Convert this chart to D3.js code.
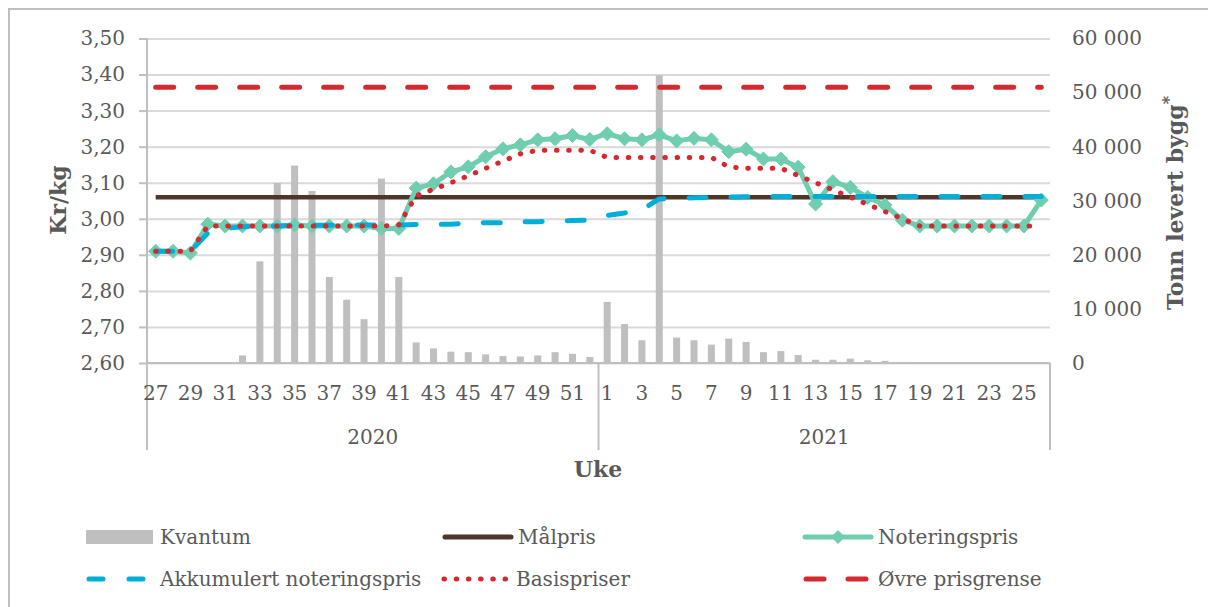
<!DOCTYPE html>
<html><head><meta charset="utf-8">
<script src="https://cdnjs.cloudflare.com/ajax/libs/d3/7.8.5/d3.min.js"></script>
<style>
body{margin:0;background:#fff}
svg{display:block}
text{font-family:"DejaVu Serif",serif;fill:#595959}
</style></head>
<body><svg id="c" width="1208" height="607"></svg>
<script>
// ---------- data ----------
const years = ["2020", "2021"];
const weeks2020 = [27,28,29,30,31,32,33,34,35,36,37,38,39,40,41,42,43,44,45,46,47,48,49,50,51,52];
const weeks2021 = [1,2,3,4,5,6,7,8,9,10,11,12,13,14,15,16,17,18,19,20,21,22,23,24,25,26];

// Kvantum (tonn levert bygg) – right axis
const kvantum = [0,0,0,0,100,1400,18800,33300,36500,31800,15900,11700,8100,34100,15900,3800,2700,2100,2000,1600,1300,1200,1400,2000,1700,1100,
                 11300,7200,4200,53200,4700,4200,3400,4500,3900,2000,2200,1500,600,600,800,500,400,200,150,50,0,0,0,0,0,0];
// Målpris
const malpris = [3.06,3.06,3.06,3.06,3.06,3.06,3.06,3.06,3.06,3.06,3.06,3.06,3.06,3.06,3.06,3.06,3.06,3.06,3.06,3.06,3.06,3.06,3.06,3.06,3.06,3.06,
                 3.06,3.06,3.06,3.06,3.06,3.06,3.06,3.06,3.06,3.06,3.06,3.06,3.06,3.06,3.06,3.06,3.06,3.06,3.06,3.06,3.06,3.06,3.06,3.06,3.06,3.06];
// Noteringspris
const notering = [2.91,2.91,2.905,2.985,2.98,2.98,2.98,2.98,2.983,2.98,2.98,2.98,2.98,2.973,2.973,3.085,3.097,3.13,3.144,3.172,3.194,3.205,3.219,3.222,3.231,3.22,
                  3.236,3.222,3.219,3.233,3.216,3.223,3.219,3.186,3.193,3.166,3.166,3.143,3.041,3.103,3.087,3.059,3.038,2.996,2.98,2.98,2.98,2.98,2.98,2.98,2.98,3.052];
// Akkumulert noteringspris
const akkumulert = [2.91,2.91,2.91,2.96,2.973,2.978,2.98,2.98,2.981,2.982,2.982,2.982,2.983,2.983,2.983,2.984,2.985,2.985,2.988,2.989,2.989,2.992,2.992,2.994,2.995,2.996,
                    3.009,3.016,3.025,3.055,3.057,3.058,3.059,3.06,3.061,3.062,3.062,3.062,3.062,3.062,3.062,3.062,3.062,3.062,3.062,3.062,3.062,3.062,3.062,3.062,3.062,3.062];
// Basispriser
const basis = [2.91,2.91,2.91,2.98,2.98,2.98,2.98,2.98,2.98,2.98,2.98,2.98,2.98,2.98,2.983,3.064,3.082,3.10,3.119,3.14,3.16,3.18,3.19,3.19,3.19,3.19,
               3.17,3.17,3.17,3.17,3.17,3.17,3.17,3.144,3.14,3.14,3.14,3.12,3.10,3.08,3.06,3.04,3.02,3.00,2.98,2.98,2.98,2.98,2.98,2.98,2.98,2.98];
// Øvre prisgrense
const ovre = [3.365,3.365,3.365,3.365,3.365,3.365,3.365,3.365,3.365,3.365,3.365,3.365,3.365,3.365,3.365,3.365,3.365,3.365,3.365,3.365,3.365,3.365,3.365,3.365,3.365,3.365,
              3.365,3.365,3.365,3.365,3.365,3.365,3.365,3.365,3.365,3.365,3.365,3.365,3.365,3.365,3.365,3.365,3.365,3.365,3.365,3.365,3.365,3.365,3.365,3.365,3.365,3.365];

const leftTicks = [2.6,2.7,2.8,2.9,3.0,3.1,3.2,3.3,3.4,3.5];
const rightTicks = [0,10000,20000,30000,40000,50000,60000];
const weekLabels = [27,29,31,33,35,37,39,41,43,45,47,49,51,1,3,5,7,9,11,13,15,17,19,21,23,25];
const legendLabels = ["Kvantum","Målpris","Noteringspris","Akkumulert noteringspris","Basispriser","Øvre prisgrense"];
const titles = {left:"Kr/kg", right:"Tonn levert bygg", x:"Uke"};

// ---------- layout ----------
const svg = d3.select("#c");
const L = 147, R = 1050, T = 38.5, B = 363;
const FS = 20, TFS = 22;
const C = {bar:"#bfbfbf", brown:"#4e3629", green:"#6fcdb0", blue:"#00afd8", red:"#d5282f", grid:"#d9d9d9", axis:"#bfbfbf"};

const cats = [...weeks2020.map(w=>"2020-"+w), ...weeks2021.map(w=>"2021-"+w)];
const x = d3.scaleBand().domain(cats).range([L, R]).padding(0);
const xc = k => x(k) + x.bandwidth()/2;
const yL = d3.scaleLinear().domain([2.6, 3.5]).range([B, T]);
const yR = d3.scaleLinear().domain([0, 60000]).range([B, T]);

// outer border
svg.append("rect").attr("x",9).attr("y",9).attr("width",1210).attr("height",620)
  .attr("fill","none").attr("stroke","#bfbfbf").attr("stroke-width",2);

// gridlines
svg.append("g").attr("transform",`translate(${L},0)`)
  .call(d3.axisLeft(yL).tickValues(leftTicks).tickSize(-(R-L)).tickFormat(""))
  .call(g=>g.select(".domain").remove())
  .call(g=>g.selectAll("line").attr("stroke",C.grid).attr("stroke-width",2));

// left axis
const fmtL = d => d3.format(".2f")(d).replace(".", ",");
svg.append("g").attr("transform",`translate(${L},0)`)
  .call(d3.axisLeft(yL).tickValues(leftTicks).tickSize(8).tickPadding(14).tickFormat(fmtL))
  .call(g=>g.select(".domain").remove())
  .call(g=>g.selectAll("line").attr("stroke",C.axis).attr("stroke-width",2))
  .call(g=>g.selectAll("text").style("font-size",FS+"px").attr("fill","#595959"));

// right axis
const fmtR = d => d3.format(",")(d).replace(/,/g, " ");
svg.append("g").attr("transform",`translate(${R},0)`)
  .call(d3.axisRight(yR).tickValues(rightTicks).tickSize(0).tickPadding(22).tickFormat(fmtR))
  .call(g=>g.select(".domain").remove())
  .call(g=>g.selectAll("text").style("font-size",FS+"px").attr("fill","#595959"));

// bars
const barW = 7;
svg.append("g").selectAll("rect").data(cats).join("rect")
  .attr("x", (k)=>xc(k)-barW/2)
  .attr("width", barW)
  .attr("y", (k,i)=>yR(kvantum[i]))
  .attr("height", (k,i)=>B - yR(kvantum[i]))
  .attr("fill", C.bar);

// axis lines
svg.append("line").attr("x1",L).attr("x2",L).attr("y1",T).attr("y2",450).attr("stroke",C.axis).attr("stroke-width",2);
svg.append("line").attr("x1",L).attr("x2",R).attr("y1",B).attr("y2",B).attr("stroke",C.axis).attr("stroke-width",2);
const sepX = [x("2020-27"), x("2021-1"), R];
svg.append("g").selectAll("line").data(sepX).join("line")
  .attr("x1",d=>d).attr("x2",d=>d).attr("y1",B).attr("y2",450).attr("stroke",C.axis).attr("stroke-width",2);

// x tick labels
const labelCats = weekLabels.map((w,i)=> (i < 13 ? "2020-" : "2021-") + w);
svg.append("g").attr("transform",`translate(0,${B})`)
  .call(d3.axisBottom(x).tickValues(labelCats).tickSize(0).tickPadding(23).tickFormat(k=>k.split("-")[1]))
  .call(g=>g.select(".domain").remove())
  .call(g=>g.selectAll("text").style("font-size",FS+"px").attr("fill","#595959"));

// year labels
svg.append("g").selectAll("text").data(years).join("text")
  .attr("x",(d,i)=> (sepX[i]+sepX[i+1])/2).attr("y",444)
  .attr("text-anchor","middle").style("font-size",FS+"px").text(d=>d);

// titles
svg.append("text").attr("x",598).attr("y",477).attr("text-anchor","middle")
  .style("font-size",TFS+"px").style("font-weight","bold").text(titles.x);
svg.append("text").attr("transform","translate(58,200) rotate(-90)").attr("dy","0.35em")
  .attr("text-anchor","middle").style("font-size",TFS+"px").style("font-weight","bold").text(titles.left);
const rt = svg.append("text").attr("transform","translate(1175,203) rotate(-90)").attr("dy","0.35em")
  .attr("text-anchor","middle").style("font-size",TFS+"px").style("font-weight","bold");
rt.append("tspan").text(titles.right);
rt.append("tspan").attr("dy","-9").style("font-size","16px").text("*");

// lines
const line = arr => d3.line().x((k)=>xc(k)).y((k,i)=>yL(arr[i]));
function drawLine(arr, color, w, dash, cap){
  svg.append("path").datum(cats).attr("d", line(arr)).attr("fill","none")
    .attr("stroke",color).attr("stroke-width",w).attr("stroke-linejoin","round")
    .attr("stroke-linecap",cap||"butt").attr("stroke-dasharray",dash||null);
}
const diamond = "M0,-7L7,0L0,7L-7,0Z";
drawLine(malpris, C.brown, 4.5);
drawLine(notering, C.green, 5);
svg.append("g").selectAll("path").data(cats).join("path")
  .attr("d", diamond).attr("fill", C.green).attr("stroke", C.green).attr("stroke-width",1)
  .attr("transform",(k,i)=>`translate(${xc(k)},${yL(notering[i])})`);
drawLine(akkumulert, C.blue, 5, "17 25", "round");
drawLine(basis, C.red, 5, "0.5 11.7", "round");
drawLine(ovre, C.red, 5, "18 24", "round");

// legend
const lg = svg.append("g");
const items = [
  {label:legendLabels[0], x:86, y:537, type:"bar"},
  {label:legendLabels[1], x:443, y:537, type:"brown"},
  {label:legendLabels[2], x:803, y:537, type:"green"},
  {label:legendLabels[3], x:86, y:579, type:"blue"},
  {label:legendLabels[4], x:441, y:579, type:"dots"},
  {label:legendLabels[5], x:803, y:579, type:"reddash"}
];
items.forEach(it=>{
  const g = lg.append("g");
  const x0 = it.x, x1 = it.x + (it.type==="bar"||it.type==="blue" ? 67 : 70), yy = it.y;
  if(it.type==="bar"){
    g.append("rect").attr("x",x0).attr("y",yy-7).attr("width",67).attr("height",14).attr("fill",C.bar);
  } else if(it.type==="brown"){
    g.append("line").attr("x1",x0+2).attr("x2",x1-2).attr("y1",yy).attr("y2",yy).attr("stroke",C.brown).attr("stroke-width",5).attr("stroke-linecap","round");
  } else if(it.type==="green"){
    g.append("line").attr("x1",x0+2).attr("x2",x1-2).attr("y1",yy).attr("y2",yy).attr("stroke",C.green).attr("stroke-width",5).attr("stroke-linecap","round");
    g.append("path").attr("d",diamond).attr("fill",C.green).attr("transform",`translate(${(x0+x1)/2},${yy})`);
  } else if(it.type==="blue"){
    g.append("line").attr("x1",x0+3).attr("x2",x1-3).attr("y1",yy).attr("y2",yy).attr("stroke",C.blue).attr("stroke-width",5).attr("stroke-linecap","round").attr("stroke-dasharray","14 26");
  } else if(it.type==="dots"){
    g.append("line").attr("x1",x0+3).attr("x2",x1-3).attr("y1",yy).attr("y2",yy).attr("stroke",C.red).attr("stroke-width",5).attr("stroke-linecap","round").attr("stroke-dasharray","0.5 11.7");
  } else {
    g.append("line").attr("x1",x0+3).attr("x2",x1-3).attr("y1",yy).attr("y2",yy).attr("stroke",C.red).attr("stroke-width",5).attr("stroke-linecap","round").attr("stroke-dasharray","18 24");
  }
  g.append("text").attr("x", (it.type==="bar"||it.type==="blue") ? x0+74 : x1+5).attr("y",yy).attr("dy","0.35em")
    .style("font-size",FS+"px").text(it.label);
});
</script>
</body></html>
